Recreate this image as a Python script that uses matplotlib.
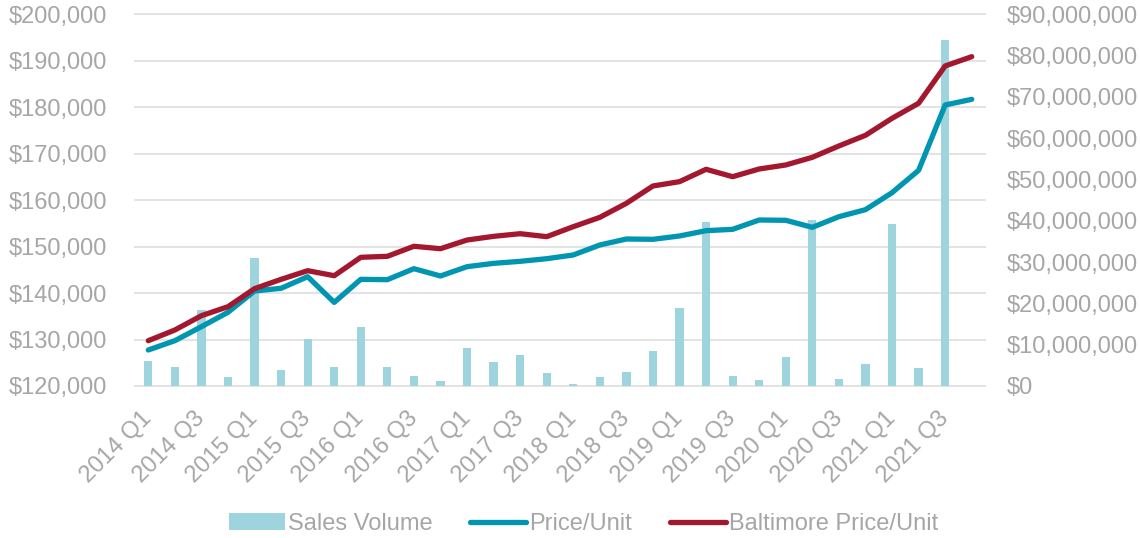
import matplotlib
matplotlib.use("Agg")
import matplotlib.pyplot as plt
import numpy as np
from matplotlib.transforms import blended_transform_factory
from matplotlib.patches import Patch
from matplotlib.lines import Line2D

plt.rcParams['font.family'] = ['Liberation Sans', 'DejaVu Sans']

quarters = [f"{y} Q{q}" for y in range(2014, 2022) for q in range(1, 5)]

sales_volume = [6.1, 4.5, 18.3, 2.2, 31.0, 3.9, 11.5, 4.5, 14.4, 4.7, 2.4, 1.2,
                9.2, 5.9, 7.6, 3.1, 0.5, 2.2, 3.3, 8.5, 18.9, 39.7, 2.5, 1.4,
                7.0, 40.1, 1.7, 5.3, 39.2, 4.3, 83.8, 0.0]
sales_volume = [v * 1e6 for v in sales_volume]

price_unit = [127750, 129750, 132770, 135860, 140450, 141030, 143530, 138000,
              142960, 142880, 145250, 143680, 145680, 146400, 146830, 147400,
              148200, 150350, 151640, 151570, 152290, 153430, 153720, 155730,
              155660, 154150, 156440, 157950, 161610, 166420, 180480, 181700]

baltimore_price_unit = [129750, 132050, 135130, 137070, 140950, 142960, 144820, 143740,
                        147700, 147910, 150070, 149550, 151420, 152210, 152780, 152140,
                        154290, 156300, 159320, 163050, 163980, 166640, 165050, 166710,
                        167570, 169220, 171660, 173960, 177610, 180850, 188880, 190880]

left_ticks = list(range(120000, 200001, 10000))
right_ticks = list(range(0, 90000001, 10000000))

BAR_C = '#9dd4dd'
BLUE_C = '#0095b0'
RED_C = '#a3182f'
TEXT_C = '#a6a6a6'
GRID_C = '#e3e3e3'
FS = 17

fig = plt.figure(figsize=(11.4, 5.38), dpi=100)
ax_bar = fig.add_axes([135/1140, 1-386/538, 850/1140, (386-14.3)/538])
ax_line = ax_bar.twinx()
ax_line.set_zorder(ax_bar.get_zorder() + 1)
ax_line.patch.set_visible(False)

x = np.arange(len(quarters))

# bars on right axis
ax_bar.bar(x, sales_volume, width=0.31, color=BAR_C, zorder=2)
ax_bar.set_ylim(0, 90000000)
ax_bar.yaxis.tick_right()
ax_bar.yaxis.set_label_position('right')
ax_bar.set_yticks(right_ticks)
ax_bar.set_yticklabels(['${:,.0f}'.format(v) for v in right_ticks])

# lines on left axis
ax_line.plot(x, price_unit, color=BLUE_C, lw=3.8, solid_capstyle='round', solid_joinstyle='round')
ax_line.plot(x, baltimore_price_unit, color=RED_C, lw=3.8, solid_capstyle='round', solid_joinstyle='round')
ax_line.set_ylim(120000, 200000)
ax_line.yaxis.tick_left()
ax_line.set_yticks(left_ticks)
ax_line.set_yticklabels(['${:,.0f}'.format(v) for v in left_ticks])

# gridlines at left-axis ticks, behind bars
tr = blended_transform_factory(ax_bar.transAxes, ax_line.transData)
for v in left_ticks:
    ax_bar.plot([0, 1], [v, v], transform=tr, color=GRID_C, lw=1.4, zorder=1, clip_on=False)

ax_bar.set_xlim(-0.5, len(quarters) - 0.5)
ax_bar.set_xticks(x[::2])
ax_bar.set_xticklabels([quarters[i] for i in x[::2]], rotation=45, ha='right',
                       va='center', rotation_mode='anchor')

for a in (ax_bar, ax_line):
    for s in a.spines.values():
        s.set_visible(False)

ax_bar.tick_params(axis='x', length=0, labelsize=FS, labelcolor=TEXT_C, pad=21)
ax_bar.tick_params(axis='y', length=0, labelsize=FS, labelcolor=TEXT_C, pad=16)
ax_line.tick_params(axis='y', length=0, labelsize=FS, labelcolor=TEXT_C, pad=20)
ax_line.tick_params(axis='x', length=0)

handles = [Patch(facecolor=BAR_C, edgecolor='none'),
           Line2D([0], [0], color=BLUE_C, lw=3.8, solid_capstyle='round'),
           Line2D([0], [0], color=RED_C, lw=3.8, solid_capstyle='round')]
fig.legend(handles, ['Sales Volume', 'Price/Unit', 'Baltimore Price/Unit'],
           loc='center', bbox_to_anchor=(0.512, 1-524/538), ncol=3, frameon=False,
           fontsize=FS, labelcolor=TEXT_C, handlelength=2.35, handleheight=0.72,
           handletextpad=0.15, columnspacing=1.6)

fig.savefig('out.png', dpi=100)
